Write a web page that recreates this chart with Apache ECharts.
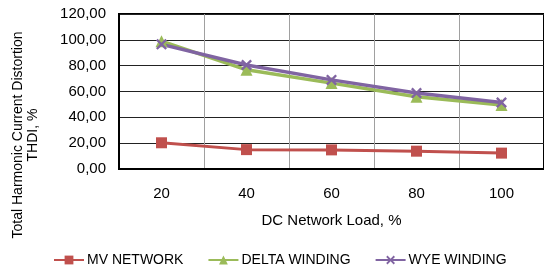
<!DOCTYPE html>
<html><head><meta charset="utf-8">
<script src="https://cdn.jsdelivr.net/npm/echarts@6/dist/echarts.min.js"></script>
<style>html,body{margin:0;padding:0;background:#fff}#c{width:544px;height:272px}</style>
</head><body><div id="c"></div>
<script>
const categories = ['20', '40', '60', '80', '100'];
const mvNetwork = [20.3, 15.0, 14.8, 13.8, 12.3];
const deltaWinding = [99.0, 76.8, 66.5, 56.0, 49.5];
const wyeWinding = [96.5, 80.5, 69.0, 58.8, 51.5];
const seriesNames = ['MV NETWORK', 'DELTA WINDING', 'WYE WINDING'];
const xAxisTitle = 'DC Network Load, %';
const yAxisTitle = 'Total Harmonic Current Distortion\nTHDI, %';

const font = 'Arial, "Liberation Sans", sans-serif';
const xMark = 'path://M0,1.5L1.5,0L5,3.5L8.5,0L10,1.5L6.5,5L10,8.5L8.5,10L5,6.5L1.5,10L0,8.5L3.5,5Z';
const chart = echarts.init(document.getElementById('c'), null, {renderer: 'canvas'});
chart.setOption({
  animation: false,
  textStyle: {fontFamily: font, color: '#000'},
  grid: {left: 119, top: 14, right: -3, bottom: 103, show: true, borderColor: '#000', borderWidth: 2, containLabel: false},
  graphic: [{
    type: 'text', x: 26, y: 135, rotation: Math.PI / 2,
    style: {text: yAxisTitle, fontSize: 14, fontFamily: font, fill: '#000', align: 'center', verticalAlign: 'middle', lineHeight: 15}
  }],
  legend: {
    bottom: 5, left: 53, padding: 0, itemGap: 24, itemWidth: 30, itemHeight: 11,
    textStyle: {fontSize: 14, fontFamily: font, color: '#000', padding: [0, 0, 0, -2]},
    data: seriesNames
  },
  xAxis: {
    type: 'category', data: categories, boundaryGap: true,
    name: xAxisTitle, nameLocation: 'middle', nameGap: 44,
    nameTextStyle: {fontSize: 15, fontFamily: font, color: '#000'},
    axisLine: {lineStyle: {color: '#000', width: 2}},
    axisTick: {show: false},
    axisLabel: {fontSize: 15, color: '#000', margin: 17},
    splitLine: {show: true, lineStyle: {color: '#a0a0a0', width: 1}}
  },
  yAxis: {
    type: 'value', min: 0, max: 120, interval: 20,
    axisLine: {show: true, lineStyle: {color: '#000', width: 2}},
    axisTick: {show: false},
    axisLabel: {fontSize: 15, color: '#000', margin: 13, formatter: v => v.toFixed(2).replace('.', ',')},
    splitLine: {show: true, lineStyle: {color: '#222', width: 1}}
  },
  series: [
    {name: seriesNames[0], type: 'line', data: mvNetwork, symbol: 'rect', symbolSize: 11,
     lineStyle: {color: '#c0504d', width: 3}, itemStyle: {color: '#c0504d'}},
    {name: seriesNames[1], type: 'line', data: deltaWinding, symbol: 'triangle', symbolSize: 12,
     lineStyle: {color: '#9bbb59', width: 3.5}, itemStyle: {color: '#9bbb59'}},
    {name: seriesNames[2], type: 'line', data: wyeWinding, symbol: xMark, symbolSize: 11,
     lineStyle: {color: '#8064a2', width: 3.5}, itemStyle: {color: '#8064a2'}}
  ]
});
</script></body></html>
